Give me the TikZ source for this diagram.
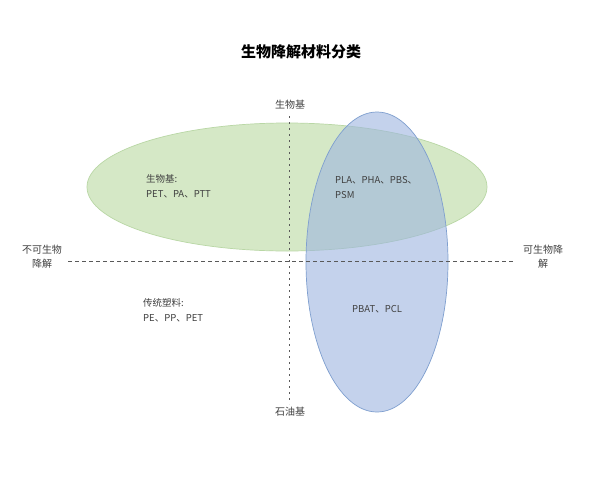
\documentclass[tikz,border=0pt]{standalone}
\usepackage{fontspec}
\setmainfont{Liberation Serif}
\newfontfamily\cjk{Noto Sans CJK SC}
\usetikzlibrary{shapes.geometric}
\begin{document}
\begin{tikzpicture}[x=1pt,y=-1pt,
  lbl/.style={font=\cjk\fontsize{10}{14}\selectfont, text=black!75, inner sep=0pt, align=center},
  txt/.style={font=\cjk\fontsize{9.5}{15.5}\selectfont, text=black!75, inner sep=0pt, anchor=north west, align=left},
  axis/.style={draw=black!65, line width=0.7pt},
  ell/.style={ellipse, inner sep=0pt, line width=0.7pt}]
\definecolor{gfill}{HTML}{D5E8C6}
\definecolor{gline}{HTML}{B9D7A5}
\definecolor{bfill}{HTML}{9DB5E0}
\definecolor{bline}{HTML}{7F9FCF}
\useasboundingbox[fill=white] (0,0) rectangle (600,480);
\node[font=\cjk\bfseries\fontsize{15}{18}\selectfont, inner sep=0pt] (title) at (301,52) {生物降解材料分类};
% ellipses
\node[ell, draw=gline, fill=gfill, minimum width=400pt, minimum height=128pt] (bio) at (287,187) {};
\node[ell, draw=bline, fill=bfill, fill opacity=0.6, minimum width=142pt, minimum height=300pt] (deg) at (377,262) {};
% axis labels
\node[lbl] (top) at (290,105) {生物基};
\node[lbl] (bot) at (290,412) {石油基};
\node[lbl] (left) at (42,257) {不可生物\\降解};
\node[lbl] (right) at (543,257) {可生物降\\解};
% axes
\coordinate (vt) at (289,116);
\coordinate (vb) at (289,404);
\coordinate (hl) at (68,261);
\coordinate (hr) at (513,261);
\draw[axis, dash pattern=on 2pt off 4pt] (vt) -- (vb);
\draw[axis, dash pattern=on 4pt off 3pt] (hl) -- (hr);
% texts
\node[txt] (t1) at (146,174) {生物基:\\PET、PA、PTT};
\node[txt] (t2) at (335,176) {PLA、PHA、PBS、\\PSM};
\node[txt] (t3) at (143,298) {传统塑料:\\PE、PP、PET};
\node[txt] (t4) at (352,305) {PBAT、PCL};
\end{tikzpicture}
\end{document}
